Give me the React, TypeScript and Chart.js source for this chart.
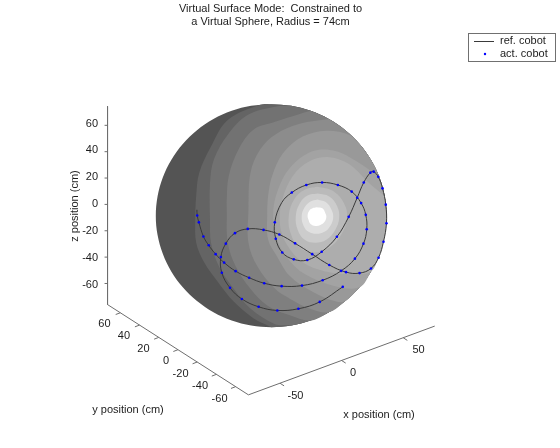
import React, { useEffect, useRef } from "react";
import { Chart, registerables } from "chart.js";

Chart.register(...registerables);

type P = [number, number];

const titleLines = ["Virtual Surface Mode:  Constrained to", "a Virtual Sphere, Radius = 74cm"];
const xTicks = [-50, 0, 50];
const yTicks = [-60, -40, -20, 0, 20, 40, 60];
const zTicks = [-60, -40, -20, 0, 20, 40, 60];
const xLimits = [-75.6, 75.6];
const yLimits = [-73.3, 73.3];
const zLimits = [-76, 74.5];

// Picture-plane readings (horizontal, vertical) of the sphere silhouette, clockwise from the top
const rim: P[] = [
  [271, 102], [291.3, 103.7], [311, 108.8], [329.5, 117.2], [346.2, 128.6], [360.6, 142.5],
  [372.3, 158.8], [380.9, 176.7], [386.2, 195.8], [388, 215.5], [386.2, 235.2], [380.9, 254.3],
  [372.3, 272.3], [360.6, 288.5], [346.2, 302.4], [329.5, 313.8], [311, 322.2], [291.3, 327.3],
  [271, 329], [250.7, 327.3], [231, 322.2], [212.5, 313.8], [195.8, 302.4], [181.4, 288.5],
  [169.7, 272.3], [161.1, 254.3], [155.8, 235.2], [154, 215.5], [155.8, 195.8], [161.1, 176.7],
  [169.7, 158.8], [181.4, 142.5], [195.8, 128.6], [212.5, 117.2], [231, 108.8], [250.7, 103.7],
];

const contour1: P[] = [[270, 328.5], [253, 320], [233, 303], [217, 283], [203, 263], [195, 243], [194, 220], [195, 195], [198, 172], [210, 145], [227, 118], [260, 102.5]];
const contour2: P[] = [[290, 327], [275, 326], [250, 310], [233, 290], [218, 267], [210, 243], [209, 220], [209, 182], [213, 158], [227, 133], [247, 113], [275, 104.5]];
const contour3: P[] = [[290, 317], [267, 307], [250, 290], [235, 267], [227, 243], [226, 210], [226, 198], [228, 175], [238, 148], [253, 128], [275, 120], [300, 112]];
const contour4: P[] = [[310, 310], [290, 300], [275, 290], [257, 267], [248, 243], [248, 210], [250, 172], [260, 148], [275, 133], [300, 122]];
const contour5: P[] = [[337, 303], [313, 293], [290, 277], [277, 257], [268, 240], [267, 215], [268, 195], [272, 175], [283, 152], [303, 135], [327, 129], [350, 133]];
const contour6: P[] = [[335, 287], [305, 275], [287, 258], [277, 240], [273, 215], [277, 192], [290, 167], [313, 150], [337, 150], [362, 163]];
const contour7: P[] = [[350, 275], [325, 272], [303, 263], [287, 245], [280, 225], [282, 200], [293, 175], [310, 160], [330, 156], [350, 163], [370, 182]];
const ring4: P[] = [[318, 186], [333, 190], [345, 203], [348, 218], [342, 235], [330, 248], [315, 253], [300, 248], [291, 234], [289, 215], [295, 198], [305, 189]];
const ring3: P[] = [[318, 193], [330, 196], [338, 206], [340, 218], [336, 230], [327, 240], [316, 243], [305, 240], [298, 230], [296, 216], [300, 203], [308, 195]];
const ring2: P[] = [[318, 199], [327, 202], [332, 209], [334, 217], [331, 226], [325, 232], [317, 234], [309, 232], [304, 226], [302, 216], [305, 207], [311, 201]];
const ring1: P[] = [[317, 207], [323, 208], [326, 213], [327, 217], [325, 222], [321, 225], [316, 226], [311, 224], [309, 220], [308, 215], [310, 210], [313, 208]];

const refCobot: P[] = [
  [195.7, 209.5], [196, 215.3], [197.7, 222.3], [202.3, 236.7], [207.7, 245.7], [214.7, 254.7], [223.3, 263.3],
  [235, 272], [248.7, 278.7], [264, 284.3], [281.7, 287.3], [302.3, 286.7], [323.3, 281.3], [342, 271.7],
  [356, 259.3], [364.7, 244], [368, 229.3], [367, 214.7], [362.3, 202.7], [352.7, 191], [338.7, 184.3],
  [322.7, 181.7], [306.7, 184.3], [292, 192], [281.7, 202.3], [274.7, 222.3], [275.7, 239], [282.3, 253], [294, 260],
  [307.7, 260.7], [322.3, 252.3], [337.7, 237], [349.7, 216.7], [358.3, 197.3], [365, 181.7], [371.7, 171.7],
  [375, 170.7], [379.7, 176], [384, 187.7], [387.3, 204.3], [388, 223.3], [385, 242], [380, 258.3], [372.3, 269.3],
  [360.7, 274], [347, 273], [330, 265.7], [312.7, 254.7], [295.3, 243.7], [279.3, 234.7], [263.3, 230], [247.3, 229],
  [234.3, 233.3], [225, 244], [220, 257.7], [221, 273.7], [229.3, 289], [241.3, 300.3], [258.3, 308.3], [277.3, 312],
  [298.7, 310.3], [320.3, 303.3], [343.7, 288],
];
const actCobot: P[] = [
  [196, 215.3], [197.7, 222.3], [202.3, 236.7], [207.7, 245.7], [214.7, 254.7], [223.3, 263.3],
  [235, 272], [248.7, 278.7], [264, 284.3], [281.7, 287.3], [302.3, 286.7], [323.3, 281.3], [342, 271.7],
  [356, 259.3], [364.7, 244], [368, 229.3], [367, 214.7], [362.3, 202.7], [352.7, 191], [338.7, 184.3],
  [322.7, 181.7], [306.7, 184.3], [292, 192], [274.7, 222.3], [275.7, 239], [282.3, 253], [294, 260],
  [307.7, 260.7], [322.3, 252.3], [337.7, 237], [349.7, 216.7], [358.3, 197.3], [365, 181.7], [371.7, 171.7],
  [375, 170.7], [379.7, 176], [384, 187.7], [387.3, 204.3], [388, 223.3], [385, 242], [380, 258.3], [372.3, 269.3],
  [360.7, 274], [347, 273], [330, 265.7], [312.7, 254.7], [295.3, 243.7], [279.3, 234.7], [263.3, 230], [247.3, 229],
  [234.3, 233.3], [225, 244], [220, 257.7], [221, 273.7], [229.3, 289], [241.3, 300.3], [258.3, 308.3], [277.3, 312],
  [298.7, 310.3], [320.3, 303.3], [343.7, 288],
];

const FONT = '11px "Liberation Sans", Arial, sans-serif';
const TEXT = "#1c1c1c";
const AXIS = "#6e6e6e";

// Fixed view of the 3-D axes box on the picture plane
const project = (x: number, y: number, z: number): P => [
  271 + 1.25 * x - 0.975 * y,
  215 - 0.463 * x - 0.627 * y - 1.342 * z,
];
const pts = (a: P[]) => a.map(([x, y]) => ({ x, y }));
const GAP = { x: NaN, y: NaN };

const shape = (points: P[], color: string, tension = 0.35) => ({
  data: pts([...points, points[0]]),
  showLine: true,
  fill: "shape",
  backgroundColor: color,
  borderColor: color,
  borderWidth: 0,
  pointRadius: 0,
  tension,
});

const textPlugin = {
  id: "figureText",
  afterDraw(chart: any) {
    const ctx = chart.ctx;
    ctx.save();
    ctx.font = FONT;
    ctx.fillStyle = TEXT;
    ctx.textBaseline = "middle";

    ctx.textAlign = "center";
    titleLines.forEach((t, i) => ctx.fillText(t, 270.5, 9 + i * 13));
    ctx.fillText("y position (cm)", 128, 410);
    ctx.fillText("x position (cm)", 379, 415);
    ctx.save();
    ctx.translate(75, 206);
    ctx.rotate(-Math.PI / 2);
    ctx.fillText("z position (cm)", 0, 0);
    ctx.restore();

    ctx.textAlign = "right";
    zTicks.forEach((v) => {
      const p = project(xLimits[0], yLimits[1], v);
      ctx.fillText(String(v), p[0] - 7, p[1]);
    });
    yTicks.forEach((v) => {
      const p = project(xLimits[0], v, zLimits[0]);
      ctx.fillText(String(v), p[0] - 7.5, p[1] + 9.3);
    });
    ctx.textAlign = "left";
    xTicks.forEach((v) => {
      const p = project(v, yLimits[0], zLimits[0]);
      ctx.fillText(String(v), p[0] + 7.5, p[1] + 10);
    });

    // legend box, built from the two data series
    ctx.fillStyle = "#ffffff";
    ctx.strokeStyle = "#707070";
    ctx.lineWidth = 1;
    ctx.fillRect(468.5, 33.5, 87, 28);
    ctx.strokeRect(468.5, 33.5, 87, 28);
    const ds = chart.data.datasets;
    const ref = ds.find((d: any) => d.label === "ref. cobot");
    const act = ds.find((d: any) => d.label === "act. cobot");
    ctx.strokeStyle = ref.borderColor;
    ctx.beginPath();
    ctx.moveTo(474, 41.5);
    ctx.lineTo(494, 41.5);
    ctx.stroke();
    ctx.fillStyle = act.backgroundColor;
    ctx.beginPath();
    ctx.arc(485, 54, 1.2, 0, Math.PI * 2);
    ctx.fill();
    ctx.fillStyle = TEXT;
    ctx.fillText(ref.label, 500, 41);
    ctx.fillText(act.label, 500, 54);
    ctx.restore();
  },
};

export default function App() {
  const ref = useRef<HTMLCanvasElement>(null);
  useEffect(() => {
    const layers = [
      shape(rim, "#545454"),
      shape([...rim.slice(0, 19), ...contour1], "#646464"),
      shape([...rim.slice(1, 18), ...contour2], "#727272"),
      shape([...rim.slice(2, 17), ...contour3], "#7f7f7f"),
      shape([...rim.slice(3, 16), ...contour4], "#8c8c8c"),
      shape([...rim.slice(5, 15), ...contour5], "#999999"),
      shape([...rim.slice(7, 14), ...contour6], "#a3a3a3"),
      shape([...rim.slice(8, 13), ...contour7], "#adadad"),
      shape(ring4, "#bababa", 0.4),
      shape(ring3, "#cccccc", 0.4),
      shape(ring2, "#e0e0e0", 0.4),
      shape(ring1, "#ffffff", 0.4),
    ].map((d, i, a) => ({ ...d, order: 2 + a.length - i }));

    const line = (data: { x: number; y: number }[]) => ({
      data,
      showLine: true,
      borderColor: AXIS,
      borderWidth: 1,
      pointRadius: 0,
      spanGaps: false,
      order: 100,
    });
    const [xa, xb] = xLimits;
    const [ya, yb] = yLimits;
    const [za, zb] = zLimits;
    const toPt = ([x, y]: P) => ({ x, y });
    const axes = line(
      [
        [project(xa, yb, zb), project(xa, yb, za), project(xa, ya, za), project(xb, ya, za)].map(toPt),
      ].flat()
    );
    const xStubs = line(
      xTicks.flatMap((v) => {
        const p = project(v, ya, za);
        return [toPt(p), { x: p[0] + 4.2, y: p[1] + 2.7 }, GAP];
      })
    );
    const yStubs = line(
      yTicks.flatMap((v) => {
        const p = project(xa, v, za);
        return [toPt(p), { x: p[0] - 4.7, y: p[1] + 1.8 }, GAP];
      })
    );
    const zStubs = line(
      zTicks.flatMap((v) => {
        const p = project(xa, yb, v);
        return [toPt(p), { x: p[0] - 3, y: p[1] }, GAP];
      })
    );

    const chart = new Chart(ref.current as HTMLCanvasElement, {
      type: "scatter",
      data: {
        datasets: [
          {
            label: "act. cobot",
            data: pts(actCobot),
            backgroundColor: "#0000ff",
            borderColor: "#0000ff",
            pointRadius: 1.3,
            pointBorderWidth: 0,
            showLine: false,
            order: 0,
          },
          {
            label: "ref. cobot",
            data: pts(refCobot),
            showLine: true,
            borderColor: "#3a3a3a",
            borderWidth: 1,
            pointRadius: 0,
            tension: 0.4,
            order: 1,
          },
          ...layers,
          axes,
          xStubs,
          yStubs,
          zStubs,
        ] as any,
      },
      options: {
        animation: false,
        responsive: false,
        layout: { padding: 0 },
        plugins: { legend: { display: false }, title: { display: false }, tooltip: { enabled: false } },
        scales: {
          x: { type: "linear", min: 0, max: 560, display: false },
          y: { type: "linear", min: 0, max: 448, reverse: true, display: false },
        },
      },
      plugins: [textPlugin],
    } as any);
    return () => chart.destroy();
  }, []);
  return (
    <div style={{ position: "absolute", left: 0, top: 0, width: 560, height: 448, background: "#fff" }}>
      <canvas ref={ref} width={560} height={448} style={{ display: "block" }} />
    </div>
  );
}
